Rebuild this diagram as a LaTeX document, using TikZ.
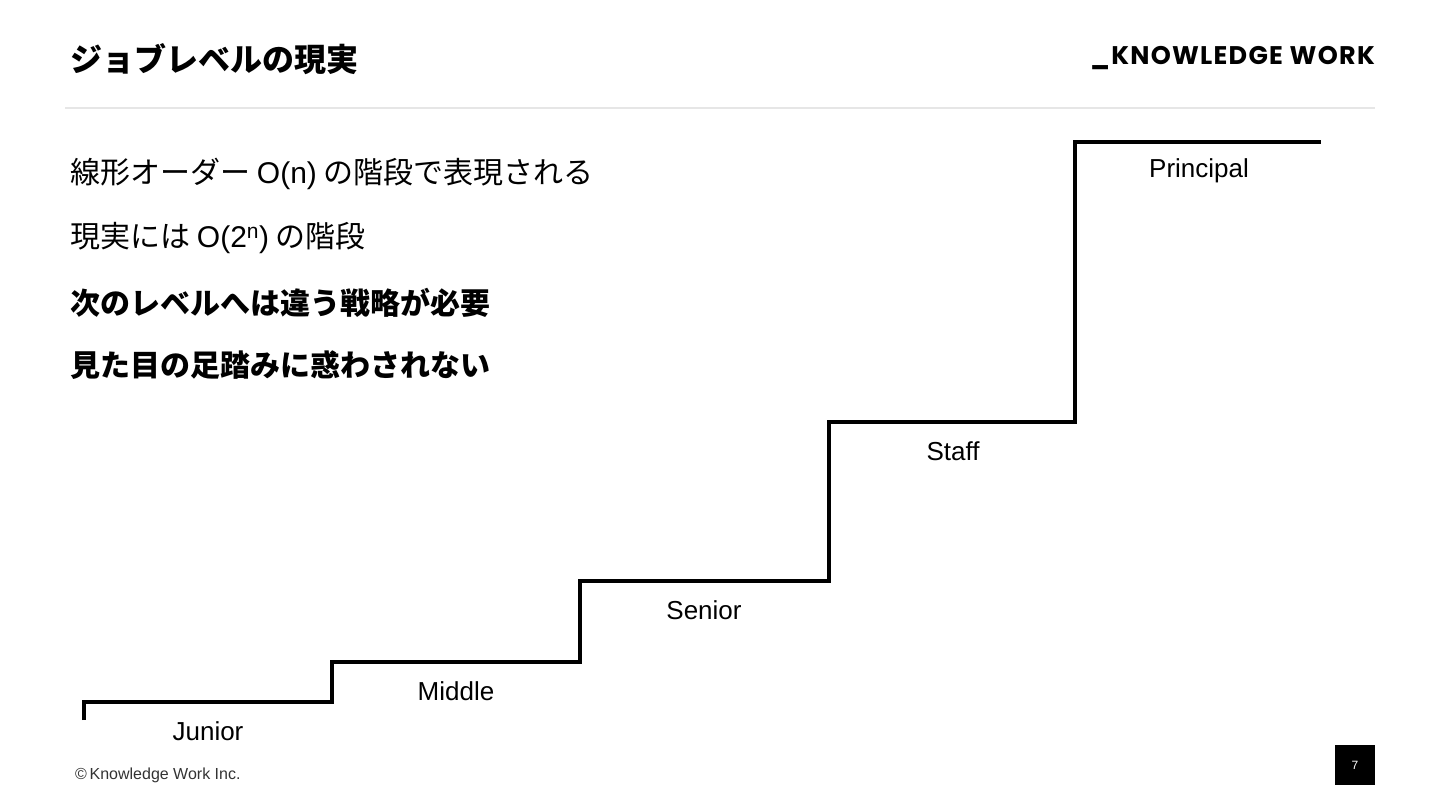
\documentclass[tikz,border=0pt]{standalone}
\usepackage{fontspec}
\setmainfont{Liberation Sans}
\newfontfamily\jpfont{Noto Sans CJK JP}
\newfontfamily\logofont[LetterSpace=5]{Poppins}
\usepackage{tikz}
\usetikzlibrary{positioning,calc}
\definecolor{ruleGray}{HTML}{E6E6E6}
\definecolor{footGray}{HTML}{333333}

\tikzset{
  stair/.style={line width=4pt, line join=miter},
  levellabel/.style={inner sep=0pt, font=\fontsize{26}{30}\selectfont},
  bullet/.style={anchor=west, inner sep=0pt, font=\fontsize{30}{34}\selectfont\jpfont},
}

\begin{document}
\begin{tikzpicture}[x=1pt, y=-1pt]
  \useasboundingbox (0,0) rectangle (1440,810);
  % header: title, logo and thin rule
  \node[anchor=west, inner sep=0pt, font=\fontsize{32}{36}\selectfont\jpfont\bfseries] (title) at (70,59) {ジョブレベルの現実};
  \node[anchor=east, inner sep=0pt, font=\fontsize{25.5}{30}\selectfont\logofont\bfseries] (logo) at (1375,58) {\_KNOWLEDGE WORK};
  \draw[ruleGray, line width=1.5pt] (65,108) -- (1375,108);
  % the four statements
  \node[bullet] (line1) at (70,174) {線形オーダー {\rmfamily O(n)} の階段で表現される};
  \node[bullet] (line2) at (70,238) {現実には {\rmfamily O(2\textsuperscript{n})} の階段};
  \node[bullet, font=\fontsize{30}{34}\selectfont\jpfont\bfseries] (line3) at (70,303) {次のレベルへは違う戦略が必要};
  \node[bullet, font=\fontsize{30}{34}\selectfont\jpfont\bfseries] (line4) at (70,365) {見た目の足踏みに惑わされない};
  % staircase: one corner per level, label under each tread
  \coordinate (foot) at (84,720);
  \foreach \lvl/\x/\y in {Junior/84/702, Middle/332/662, Senior/580/581, Staff/829/422, Principal/1075/142} {
    \coordinate (\lvl) at (\x,\y);
    \node[levellabel] (lbl-\lvl) at ([shift={(124,29)}]\lvl) {\lvl};
  }
  \coordinate (top) at (1321,142);
  \draw[stair] (foot) -- (Junior) -| (Middle) -| (Senior) -| (Staff) -| (Principal) -- (top);
  % footer
  \node[anchor=west, inner sep=0pt, text=footGray, font=\fontsize{16}{18}\selectfont] (copy) at (75,775) {\textcopyright\,Knowledge Work Inc.};
  \node[fill=black, minimum size=40pt, inner sep=0pt, text=white, font=\fontsize{12}{14}\selectfont] (page) at (1355,765) {7};
\end{tikzpicture}
\end{document}
